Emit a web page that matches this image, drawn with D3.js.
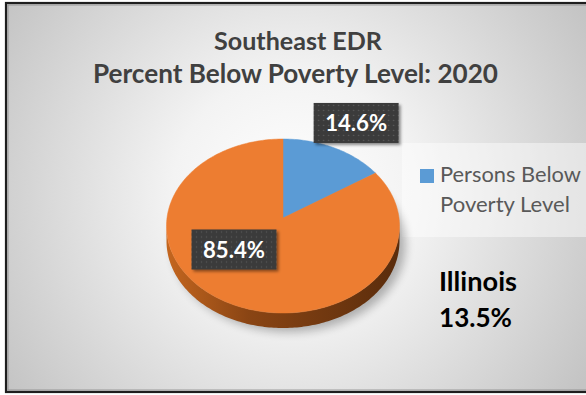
<!DOCTYPE html>
<html>
<head>
<meta charset="utf-8">
<script src="https://cdn.jsdelivr.net/npm/d3@7"></script>
<style>
  html, body { margin: 0; padding: 0; background: #fff; }
  svg { display: block; }
</style>
</head>
<body>
<svg id="chart" width="586" height="395"></svg>
<script>
// ---- data ----
const categories = ["Persons Below Poverty Level", "Persons Above Poverty Level"];
const values = [14.6, 85.4];
const sliceColors = ["#5B9BD5", "#ED7D31"];
const titleLines = ["Southeast EDR", "Percent Below Poverty Level: 2020"];
const legendLines = ["Persons Below", "Poverty Level"];
const noteLines = ["Illinois", "13.5%"];

// ---- layout ----
const W = 586, H = 395;
const pie3d = { cx: 283, cy: 226, rx: 116.5, ry: 87, apexLift: 8, depth: 15 };
// label placement: radius factor (relative to rim) and angle nudge (degrees)
const labelPlace = [{ k: 1.26, da: 3.6 }, { k: 0.555, da: 23 }];
const labelBox = { w: 85, h: 40 };
const FONT = "Lato, 'Open Sans', 'Liberation Sans', sans-serif";

const svg = d3.select("#chart");
const defs = svg.append("defs");

// background radial gradient
const bg = defs.append("radialGradient").attr("id", "bgGrad")
  .attr("gradientUnits", "userSpaceOnUse")
  .attr("cx", 293).attr("cy", 195).attr("r", 345);
bg.append("stop").attr("offset", 0).attr("stop-color", "#ffffff");
bg.append("stop").attr("offset", 0.35).attr("stop-color", "#f3f3f3");
bg.append("stop").attr("offset", 1).attr("stop-color", "#c4c4c4");

// side wall gradient
const side = defs.append("linearGradient").attr("id", "sideGrad")
  .attr("gradientUnits", "userSpaceOnUse")
  .attr("x1", pie3d.cx - pie3d.rx).attr("x2", pie3d.cx + pie3d.rx)
  .attr("y1", 0).attr("y2", 0);
side.append("stop").attr("offset", 0).attr("stop-color", "#c4661f");
side.append("stop").attr("offset", 0.35).attr("stop-color", "#8a4514");
side.append("stop").attr("offset", 1).attr("stop-color", "#5a2c0c");

// dotted label texture
const pat = defs.append("pattern").attr("id", "dots")
  .attr("patternUnits", "userSpaceOnUse").attr("width", 5).attr("height", 5);
pat.append("rect").attr("width", 5).attr("height", 5).attr("fill", "#3a3a3a");
pat.append("circle").attr("cx", 2.5).attr("cy", 2.5).attr("r", 0.8).attr("fill", "#5a5a5a");

// filters
const blur = defs.append("filter").attr("id", "pieShadow")
  .attr("x", "-30%").attr("y", "-30%").attr("width", "160%").attr("height", "160%");
blur.append("feGaussianBlur").attr("stdDeviation", 5);

const ds = defs.append("filter").attr("id", "boxShadow")
  .attr("x", "-20%").attr("y", "-20%").attr("width", "150%").attr("height", "160%");
ds.append("feDropShadow").attr("dx", 2).attr("dy", 2).attr("stdDeviation", 1.6)
  .attr("flood-color", "#000").attr("flood-opacity", 0.45);

// ---- frame ----
svg.append("rect").attr("x", 6).attr("y", 3).attr("width", W + 10).attr("height", 389)
  .attr("fill", "url(#bgGrad)").attr("stroke", "#1e1e1e").attr("stroke-width", 2.2);
svg.append("rect").attr("x", 8).attr("y", 5).attr("width", W + 10).attr("height", 385)
  .attr("fill", "none").attr("stroke", "#8a8a8a").attr("stroke-width", 0.8);

// fit text to a target width
function fit(sel, target) {
  sel.attr("font-size", 100);
  const w = sel.node().getComputedTextLength();
  sel.attr("font-size", (100 * target / w).toFixed(2));
  return sel;
}

// ---- title ----
const titleSpec = [{ x1: 214, x2: 382, y: 50 }, { x1: 93, x2: 498, y: 83 }];
titleLines.forEach((t, i) => {
  const s = titleSpec[i];
  const txt = svg.append("text").text(t)
    .attr("x", (s.x1 + s.x2) / 2).attr("y", s.y)
    .attr("text-anchor", "middle")
    .attr("font-family", FONT).attr("font-weight", 700).attr("fill", "#404040");
  fit(txt, s.x2 - s.x1);
});

// ---- legend ----
svg.append("rect").attr("x", 402).attr("y", 143).attr("width", 190).attr("height", 94)
  .attr("fill", "#ffffff").attr("opacity", 0.45);
svg.append("rect").attr("x", 420).attr("y", 169).attr("width", 14).attr("height", 14)
  .attr("fill", sliceColors[0]);
const legendSpec = [{ w: 141, y: 182 }, { w: 130, y: 212 }];
legendLines.forEach((t, i) => {
  const txt = svg.append("text").text(t)
    .attr("x", 440).attr("y", legendSpec[i].y)
    .attr("font-family", FONT).attr("fill", "#595959");
  fit(txt, legendSpec[i].w);
});

// ---- note ----
const noteSpec = [{ w: 78, y: 291 }, { w: 73, y: 327 }];
noteLines.forEach((t, i) => {
  const txt = svg.append("text").text(t)
    .attr("x", 439).attr("y", noteSpec[i].y)
    .attr("font-family", FONT).attr("font-weight", 700).attr("fill", "#000");
  fit(txt, noteSpec[i].w);
});

// ---- 3D pie ----
const { cx, cy, rx, ry, apexLift, depth } = pie3d;
const apex = [cx, cy - apexLift];
const rim = (a, k = 1, dy = 0) => [cx + rx * k * Math.sin(a), cy - ry * k * Math.cos(a) + dy];

const arcs = d3.pie().sort(null).value(d => d)(values);

function arcPoints(a0, a1, dy = 0) {
  const n = Math.max(2, Math.ceil(Math.abs(a1 - a0) / 0.02));
  return d3.range(n + 1).map(i => rim(a0 + (a1 - a0) * i / n, 1, dy));
}
const line = d3.line();

// soft drop shadow below the disc
const shadowPts = arcPoints(0, 2 * Math.PI, depth + 4).map(p => [p[0] + 6, p[1]]);
svg.append("path").attr("d", line(shadowPts) + "Z")
  .attr("fill", "#000").attr("opacity", 0.28).attr("filter", "url(#pieShadow)");

// side wall (front half)
const front0 = Math.PI / 2, front1 = 3 * Math.PI / 2;
const sidePts = arcPoints(front0, front1).concat(arcPoints(front1, front0, depth));
svg.append("path").attr("d", line(sidePts) + "Z").attr("fill", "url(#sideGrad)");

// top faces
svg.append("g").selectAll("path").data(arcs).join("path")
  .attr("d", d => line([apex].concat(arcPoints(d.startAngle, d.endAngle))) + "Z")
  .attr("fill", (d, i) => sliceColors[i])
  .attr("stroke", (d, i) => sliceColors[i]).attr("stroke-width", 0.5);

// ---- value labels ----
const labels = svg.append("g").selectAll("g").data(arcs).join("g")
  .attr("transform", (d, i) => {
    const p = labelPlace[i];
    const a = (d.startAngle + d.endAngle) / 2 + p.da * Math.PI / 180;
    const x = apex[0] + rx * p.k * Math.sin(a);
    const y = apex[1] - ry * p.k * Math.cos(a);
    return `translate(${x},${y})`;
  });
labels.append("rect")
  .attr("x", -labelBox.w / 2).attr("y", -labelBox.h / 2)
  .attr("width", labelBox.w).attr("height", labelBox.h)
  .attr("fill", "url(#dots)").attr("filter", "url(#boxShadow)");
labels.append("text")
  .text(d => d.data.toFixed(1) + "%")
  .attr("text-anchor", "middle").attr("y", 8.5)
  .attr("font-family", FONT).attr("font-weight", 700).attr("fill", "#ffffff")
  .each(function () { fit(d3.select(this), 62); });
</script>
</body>
</html>
